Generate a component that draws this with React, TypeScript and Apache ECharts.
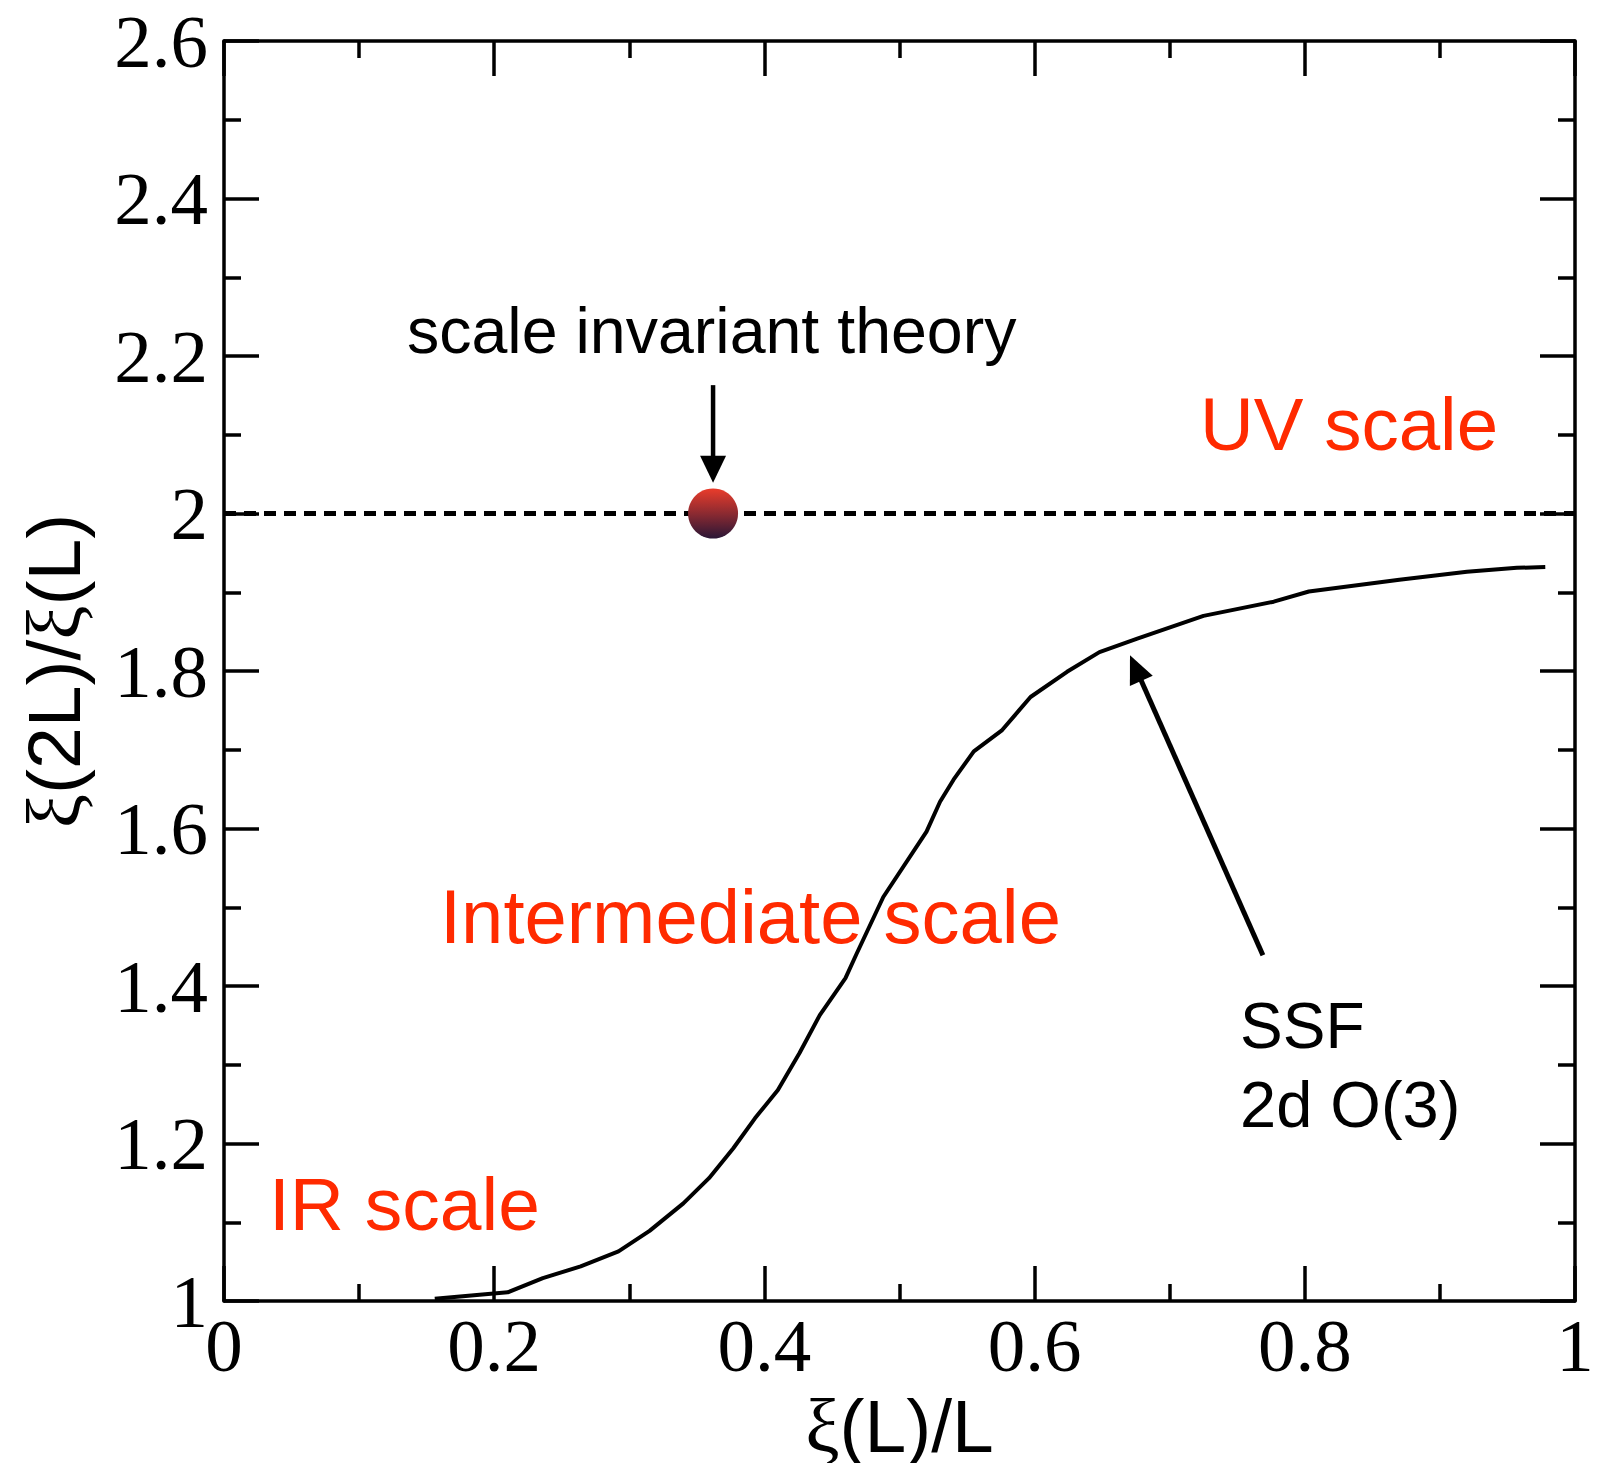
import React, { useEffect, useRef } from "react";
import * as echarts from "echarts";

// SSF curve for the 2d O(3) model
const ssfX = [0.156, 0.210, 0.236, 0.264, 0.292, 0.315, 0.340, 0.359, 0.377, 0.393, 0.410, 0.426, 0.441, 0.460, 0.468, 0.488, 0.520, 0.530, 0.540, 0.555, 0.576, 0.597, 0.624, 0.648, 0.676, 0.725, 0.777, 0.803, 0.870, 0.920, 0.957, 0.978];
const ssfY = [1.003, 1.011, 1.029, 1.044, 1.063, 1.089, 1.124, 1.156, 1.194, 1.232, 1.268, 1.315, 1.363, 1.410, 1.440, 1.513, 1.596, 1.634, 1.662, 1.698, 1.725, 1.767, 1.799, 1.824, 1.841, 1.870, 1.888, 1.901, 1.916, 1.926, 1.931, 1.932];

// scale invariant theory: reference line and fixed point
const refLineX = [0, 1];
const refLineY = [2, 2];
const fixedPointX = [0.362];
const fixedPointY = [2];

// annotation arrows (data coordinates: tail -> tip)
const arrowDownFrom = [0.362, 2.163];
const arrowDownTo = [0.362, 2.039];
const arrowSsfFrom = [0.769, 1.439];
const arrowSsfTo = [0.6706, 1.82];

const BLACK = "#000";
const RED = "#ff2a00";
const SANS = "Liberation Sans";
const SERIF = "Liberation Serif";

export default function App() {
  const ref = useRef<HTMLDivElement>(null);

  useEffect(() => {
    if (!ref.current) return;
    const chart = echarts.init(ref.current, undefined, { renderer: "svg" });

    const axisLine = { show: true, onZero: false, lineStyle: { color: BLACK, width: 3.5 } };
    const axisTick = { show: true, inside: true, length: 35, lineStyle: { color: BLACK, width: 3.5 } };
    const minorTick = { show: true, splitNumber: 2, length: 17, lineStyle: { color: BLACK, width: 3.5 } };
    const labelStyle = { fontFamily: SERIF, fontSize: 75, color: BLACK };
    const nameStyle = {
      fontSize: 75,
      fontFamily: SANS,
      color: BLACK,
      rich: {
        s: { fontFamily: SERIF, fontSize: 77, color: BLACK },
        n: { fontFamily: SANS, fontSize: 75, color: BLACK },
      },
    };

    const option: any = {
      animation: false,
      backgroundColor: "#fff",
      grid: { left: 224, top: 41, width: 1351, height: 1260, outerBoundsMode: "none", containLabel: false },
      xAxis: [
        {
          type: "value", min: 0, max: 1, interval: 0.2, position: "bottom",
          axisLine, axisTick, minorTick, splitLine: { show: false }, minorSplitLine: { show: false },
          axisLabel: { ...labelStyle, margin: 7 },
          name: "{s|ξ}{n|(L)/L}", nameLocation: "middle", nameGap: 78, nameTextStyle: nameStyle,
        },
        {
          type: "value", min: 0, max: 1, interval: 0.2, position: "top",
          axisLine, axisTick, minorTick, splitLine: { show: false }, axisLabel: { show: false },
        },
      ],
      yAxis: [
        {
          type: "value", min: 1, max: 2.6, interval: 0.2, position: "left",
          axisLine, axisTick, minorTick, splitLine: { show: false }, minorSplitLine: { show: false },
          axisLabel: { ...labelStyle, margin: 16 },
          name: "{s|ξ}{n|(2L)/}{s|ξ}{n|(L)}", nameLocation: "middle", nameGap: 132, nameTextStyle: nameStyle,
        },
        {
          type: "value", min: 1, max: 2.6, interval: 0.2, position: "right",
          axisLine, axisTick, minorTick, splitLine: { show: false }, axisLabel: { show: false },
        },
      ],
      series: [
        {
          name: "scale invariant",
          type: "line",
          data: refLineX.map((x, i) => [x, refLineY[i]]),
          showSymbol: false,
          lineStyle: { color: BLACK, width: 5, type: [12, 8] },
          z: 2,
        },
        {
          name: "SSF 2d O(3)",
          type: "line",
          data: ssfX.map((x, i) => [x, ssfY[i]]),
          showSymbol: false,
          lineStyle: { color: BLACK, width: 4 },
          z: 3,
        },
        {
          name: "fixed point",
          type: "scatter",
          data: fixedPointX.map((x, i) => [x, fixedPointY[i]]),
          symbolSize: 50,
          itemStyle: {
            opacity: 1,
            color: new echarts.graphic.LinearGradient(0, 0, 0, 1, [
              { offset: 0, color: "#ea3c2b" },
              { offset: 0.5, color: "#8c2a31" },
              { offset: 1, color: "#2a1636" },
            ]),
          },
          z: 5,
        },
      ],
    };
    chart.setOption(option);

    const px = (p: number[]) => chart.convertToPixel({ gridIndex: 0 } as any, p) as number[];
    const arrow = (from: number[], to: number[], headLen: number, headW: number, width: number) => {
      const a = px(from);
      const b = px(to);
      const dx = b[0] - a[0];
      const dy = b[1] - a[1];
      const len = Math.sqrt(dx * dx + dy * dy);
      const ux = dx / len;
      const uy = dy / len;
      const bx = b[0] - ux * headLen;
      const by = b[1] - uy * headLen;
      const nx = -uy;
      const ny = ux;
      return [
        { type: "line", shape: { x1: a[0], y1: a[1], x2: bx + ux * 2, y2: by + uy * 2 }, style: { stroke: BLACK, lineWidth: width }, z: 10 },
        {
          type: "polygon",
          shape: { points: [[b[0], b[1]], [bx + nx * headW / 2, by + ny * headW / 2], [bx - nx * headW / 2, by - ny * headW / 2]] },
          style: { fill: BLACK },
          z: 10,
        },
      ];
    };
    const text = (t: string, x: number, baseline: number, fs: number, color: string) => ({
      type: "text",
      x,
      y: baseline - 0.346 * fs,
      style: { text: t, fontFamily: SANS, fontSize: fs, fill: color, align: "left", verticalAlign: "middle" },
      z: 10,
    });

    chart.setOption({
      graphic: [
        ...arrow(arrowDownFrom, arrowDownTo, 27, 26, 4.5),
        ...arrow(arrowSsfFrom, arrowSsfTo, 28, 25, 5),
        text("scale invariant theory", 407, 353, 64.5, BLACK),
        text("UV scale", 1200, 450, 74.5, RED),
        text("Intermediate scale", 440, 943, 76, RED),
        text("IR scale", 269, 1230, 75, RED),
        text("SSF", 1240, 1048, 64, BLACK),
        text("2d O(3)", 1240, 1127, 65, BLACK),
      ],
    });

    return () => chart.dispose();
  }, []);

  return (
    <div
      ref={ref}
      style={{ position: "absolute", left: 0, top: 0, width: 1613, height: 1463, background: "#fff" }}
    />
  );
}
